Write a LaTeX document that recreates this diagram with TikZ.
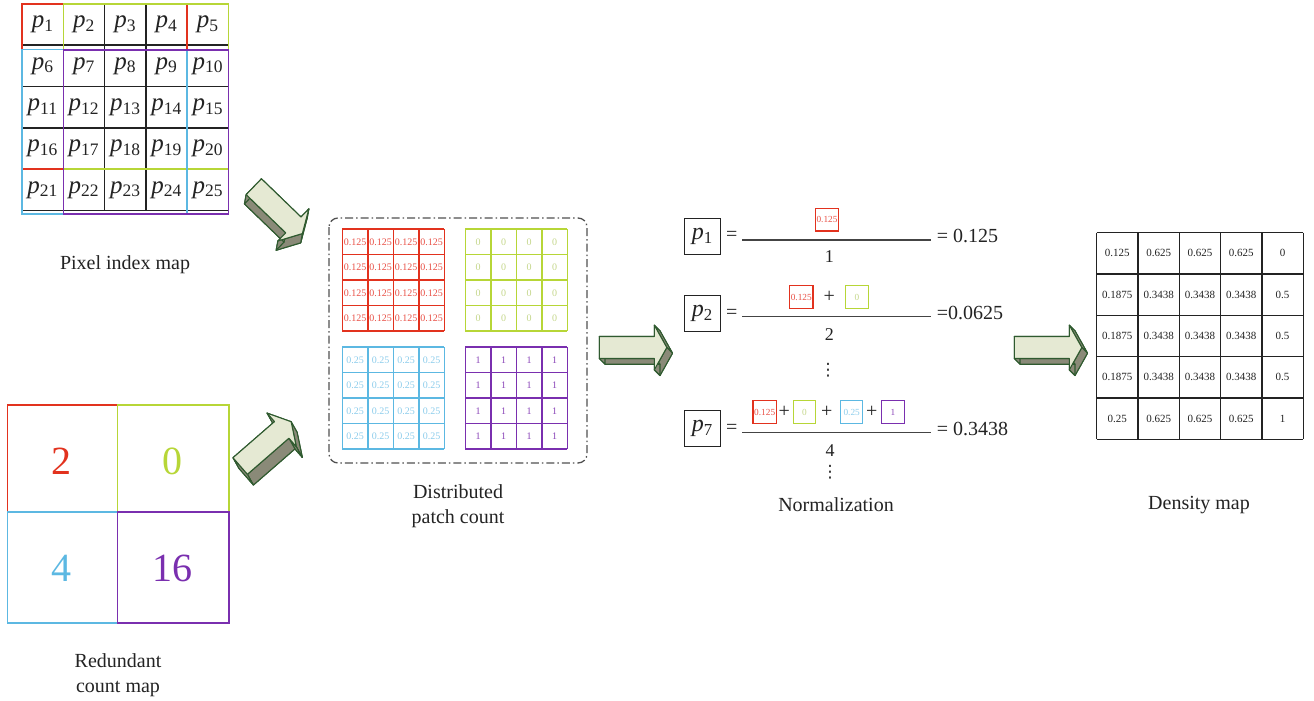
\documentclass[tikz,border=0pt]{standalone}
\usepackage{fontspec}
\setmainfont{Liberation Serif}
\newfontfamily\symfont{DejaVu Sans}
\usetikzlibrary{calc}

\definecolor{pred}{RGB}{226,50,30}
\definecolor{pgreen}{RGB}{183,214,55}
\definecolor{pblue}{RGB}{92,184,226}
\definecolor{ppurple}{RGB}{122,47,175}
\definecolor{tred}{RGB}{232,80,70}
\definecolor{tgreen}{RGB}{196,214,138}
\definecolor{tblue}{RGB}{140,204,235}
\definecolor{tpurple}{RGB}{138,69,184}
\definecolor{arrowface}{RGB}{229,233,211}
\definecolor{arrowside}{RGB}{138,138,120}
\definecolor{arrowedge}{RGB}{47,90,47}
\definecolor{boxline}{RGB}{80,80,80}
\definecolor{ink}{RGB}{35,35,35}

\newcommand\pix[1]{\textit{p}\textsubscript{#1}}

% extruded block arrow: #1 tail centre, #2 angle, #3/#4 depth offset, #5 name
\newcommand\blockarrow[5]{%
  \begin{scope}[shift={(#1)},rotate=#2]
    \coordinate (#5-1) at (0,-11);
    \coordinate (#5-2) at (55,-11);
    \coordinate (#5-3) at (55,-22.3);
    \coordinate (#5-4) at (67.5,0);
    \coordinate (#5-5) at (55,22.3);
    \coordinate (#5-6) at (55,11);
    \coordinate (#5-7) at (0,11);
  \end{scope}
  \filldraw[arrowsidestyle] ($(#5-1)+(#3,#4)$) \foreach \i in {2,...,7}{ -- ($(#5-\i)+(#3,#4)$) } -- cycle;
  \foreach \i/\j in {1/2,2/3,3/4,4/5,5/6,6/7,7/1}
    \filldraw[arrowsidestyle] (#5-\i) -- (#5-\j) -- ($(#5-\j)+(#3,#4)$) -- ($(#5-\i)+(#3,#4)$) -- cycle;
  \filldraw[arrowfacestyle] (#5-1) \foreach \i in {2,...,7}{ -- (#5-\i) } -- cycle;
}

% 4x4 patch of equal values: #1 left, #2 top, #3 line colour, #4 text colour, #5 value, #6 name
\newcommand\patchgrid[6]{%
  \foreach \r in {0,...,3} \foreach \c in {0,...,3}
    \node[pcell,text=#4] (#6-\r-\c) at ({#1+25.5*(\c+0.5)},{#2+25.5*(\r+0.5)}) {#5};
  \foreach \k in {0,...,4} {
    \draw[pline,draw=#3] ({#1},{#2+25.5*\k}) -- ({#1+102},{#2+25.5*\k});
    \draw[pline,draw=#3] ({#1+25.5*\k},{#2}) -- ({#1+25.5*\k},{#2+102});
  }
}

\tikzset{
  arrowsidestyle/.style={fill=arrowside,draw=arrowedge,line width=1.1pt,line join=round},
  arrowfacestyle/.style={fill=arrowface,draw=arrowedge,line width=1.1pt,line join=round},
  pixtxt/.style={inner sep=0pt,font=\fontsize{25}{28}\selectfont,text=ink},
  gridln/.style={line width=1.6pt,draw=ink},
  lbl/.style={align=center,inner sep=0pt,font=\fontsize{20}{25.5}\selectfont,text=ink},
  pcell/.style={inner sep=0pt,font=\fontsize{10}{11}\selectfont},
  pline/.style={line width=1.6pt},
  bigdigit/.style={inner sep=0pt,font=\fontsize{40}{44}\selectfont},
  pbox/.style={draw=ink,line width=1.1pt,minimum size=36pt,inner sep=0pt,font=\fontsize{24}{28}\selectfont,text=ink},
  mathtxt/.style={inner sep=0pt,font=\fontsize{20}{24}\selectfont,text=ink},
  vdotstxt/.style={inner sep=0pt,font=\symfont\fontsize{17}{20}\selectfont,text=ink},
  dentxt/.style={inner sep=0pt,font=\fontsize{18}{22}\selectfont,text=ink},
  sbox/.style={draw=#1,line width=1.1pt,minimum height=22.6pt,inner sep=1.2pt,font=\fontsize{9.3}{10}\selectfont},
  fracline/.style={line width=1.3pt,draw=ink!85},
  dcell/.style={inner sep=0pt,font=\fontsize{11}{13}\selectfont,text=ink},
  dashbox/.style={draw=boxline,line width=1.3pt,rounded corners=9pt,dash pattern=on 8pt off 3pt on 1.5pt off 3pt},
}

\begin{document}
\begin{tikzpicture}[x=1pt,y=-1pt]
\useasboundingbox (0,0) rectangle (1314,701);

% ---------- pixel index map ----------
\foreach \r in {0,...,4} \foreach \c in {0,...,4} {
  \pgfmathtruncatemacro\k{\r*5+\c+1}
  \node[pixtxt] (px\k) at ({22+41.3*(\c+0.5)},{4+41.3*(\r+0.5)}) {\pix{\k}};
}
\foreach \k in {0,...,5} {
  \draw[gridln] (22,{4+41.3*\k}) -- (228.5,{4+41.3*\k});
  \draw[gridln] ({22+41.3*\k},4) -- ({22+41.3*\k},210.5);
}
\draw[line width=1.5pt,pred] (22,4) rectangle (187.2,169.2);
\draw[line width=1.5pt,pgreen] (63.3,4) rectangle (228.5,169.2);
\draw[line width=1.5pt,pblue] (22,49.5) rectangle (187.2,214);
\draw[line width=1.5pt,ppurple] (63.3,50) rectangle (228.5,214);
\node[lbl] (pixlbl) at (125,265) {Pixel index map};

% ---------- redundant count map ----------
\draw[line width=1.3pt,pred] (7.3,405) rectangle (117.7,512);
\draw[line width=1.3pt,pgreen] (117.7,405) rectangle (229,512);
\draw[line width=1.3pt,pblue] (7.3,512) rectangle (117.7,623);
\draw[line width=1.3pt,ppurple] (117.7,512) rectangle (229,623);
\node[bigdigit,text=pred] (rc1) at (61,461) {2};
\node[bigdigit,text=pgreen] (rc2) at (172,461) {0};
\node[bigdigit,text=pblue] (rc3) at (61,568) {4};
\node[bigdigit,text=ppurple] (rc4) at (172,568) {16};
\node[lbl] (redlbl) at (118,675) {Redundant\\count map};

% ---------- distributed patch count ----------
\draw[dashbox] (329,218) rectangle (587,463);
\patchgrid{342.3}{229}{pred}{tred}{0.125}{pr}
\patchgrid{465.3}{229}{pgreen}{tgreen}{0}{pg}
\patchgrid{342.3}{347}{pblue}{tblue}{0.25}{pb}
\patchgrid{465.3}{347}{ppurple}{tpurple}{1}{pp}
\node[lbl] (distlbl) at (458,506) {Distributed\\patch count};

% ---------- normalization ----------
% p1
\node[pbox] (n1) at (702.4,236.3) {\pix{1}};
\node[mathtxt] (n1eq) at (731.7,236) {=};
\coordinate (n1a) at (742.3,240);
\coordinate (n1b) at (930.7,240);
\draw[fracline] (n1a) -- (n1b);
\node[sbox=pred,text=tred] (n1r) at (827,219.7) {0.125};
\node[dentxt] (n1d) at (829.3,257) {1};
\node[mathtxt,anchor=west] (n1res) at (936.7,236) {= 0.125};
% p2
\node[pbox] (n2) at (702.4,313.3) {\pix{2}};
\node[mathtxt] (n2eq) at (731.7,313.5) {=};
\coordinate (n2a) at (742.3,316.7);
\coordinate (n2b) at (930.7,316.7);
\draw[fracline] (n2a) -- (n2b);
\node[sbox=pred,text=tred] (n2r) at (801.3,297) {0.125};
\node[mathtxt] (n2p) at (829.3,297) {+};
\node[sbox=pgreen,text=tgreen,minimum width=22.6pt] (n2g) at (857,297) {0};
\node[dentxt] (n2d) at (829.3,335) {2};
\node[mathtxt,anchor=west] (n2res) at (936.7,313) {=0.0625};
\node[vdotstxt] (dots1) at (828,370) {⋮};
% p7
\node[pbox] (n7) at (702.4,428.7) {\pix{7}};
\node[mathtxt] (n7eq) at (731.7,429) {=};
\coordinate (n7a) at (742.3,432.7);
\coordinate (n7b) at (930.7,432.7);
\draw[fracline] (n7a) -- (n7b);
\node[sbox=pred,text=tred] (n7r) at (764.7,412) {0.125};
\node[mathtxt] (n7p1) at (784.3,412) {+};
\node[sbox=pgreen,text=tgreen,minimum width=22.4pt] (n7g) at (804.5,412) {0};
\node[mathtxt] (n7p2) at (826.7,412) {+};
\node[sbox=pblue,text=tblue,minimum width=22pt] (n7b) at (851.7,412) {0.25};
\node[mathtxt] (n7p3) at (871.7,412) {+};
\node[sbox=ppurple,text=tpurple,minimum width=22.6pt] (n7p) at (893,412) {1};
\node[dentxt] (n7d) at (830,451) {4};
\node[vdotstxt] (dots2) at (830,472) {⋮};
\node[mathtxt,anchor=west] (n7res) at (936.7,429) {= 0.3438};
\node[lbl] (normlbl) at (836,505) {Normalization};

% ---------- density map ----------
\foreach \r/\vals in {0/{0.125,0.625,0.625,0.625,0},1/{0.1875,0.3438,0.3438,0.3438,0.5},2/{0.1875,0.3438,0.3438,0.3438,0.5},3/{0.1875,0.3438,0.3438,0.3438,0.5},4/{0.25,0.625,0.625,0.625,1}} {
  \foreach \v [count=\c from 0] in \vals
    \node[dcell] (dm-\r-\c) at ({1096.7+41.3*(\c+0.5)},{232.7+41.3*(\r+0.5)}) {\v};
}
\foreach \k in {0,...,5} {
  \draw[gridln,line width=1.4pt] (1096.7,{232.7+41.3*\k}) -- (1303.2,{232.7+41.3*\k});
  \draw[gridln,line width=1.4pt] ({1096.7+41.3*\k},232.7) -- ({1096.7+41.3*\k},439.2);
}
\node[lbl] (denslbl) at (1199,505) {Density map};

% ---------- block arrows ----------
\blockarrow{253.8,186.7}{-44}{-1.7}{9.3}{arA}
\blockarrow{240.2,466}{41}{6}{10.7}{arB}
\blockarrow{599.3,347.5}{0}{5.7}{5.7}{arC}
\blockarrow{1014.3,347.5}{0}{5.7}{5.7}{arD}
\end{tikzpicture}
\end{document}
